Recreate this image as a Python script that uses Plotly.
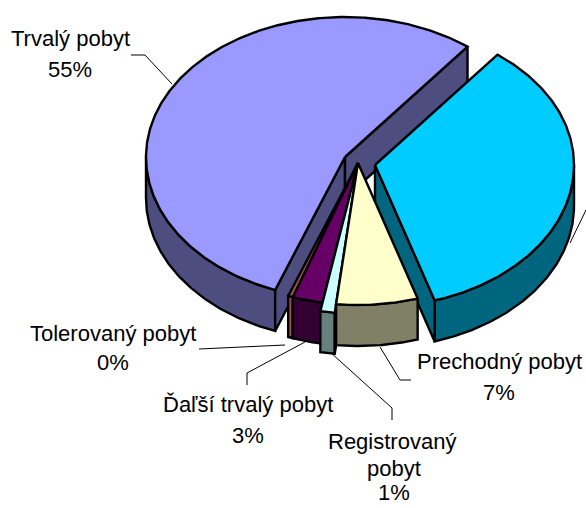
import numpy as np
import plotly.graph_objects as go

# Data, clockwise from the start angle
categories = ["Azylanti", "Prechodný pobyt", "Registrovaný pobyt", "Ďaľší trvalý pobyt", "Tolerovaný pobyt", "Trvalý pobyt"]
values = [34.6, 6.6, 1.1, 2.45, 0.4, 54.85]
top_colors = ["#00CCFF", "#FFFFCC", "#CCFFFF", "#660066", "#A05050", "#9999FF"]
side_colors = ["#006680", "#808066", "#668080", "#330033", "#A05050", "#4D4D80"]
pull_x = [17, 0, 0, 0, 0, -13]
pull_y = [2, 0, 0, 0, 0, -6]
radius_scale = [1.0, 1.0, 1.06, 1.0, 1.0, 1.0]
draw_order = [5, 4, 3, 2, 0, 1]

START_DEG = 38.0
CX, CY = 358.0, 163.0
RX, RY_BACK, RY_FRONT = 199.0, 140.0, 142.0
DEPTH = 41.0
EDGE = "#000000"

fig = go.Figure()


def poly(xs, ys, fill, width=2.4):
    fig.add_trace(go.Scatter(x=xs, y=ys, mode="lines", fill="toself", fillcolor=fill,
                             line=dict(color=EDGE, width=width), hoverinfo="skip", showlegend=False))


def rim(t_deg, cx, cy, scale):
    t = np.radians(t_deg)
    ry = np.where(np.cos(t) < 0, RY_FRONT, RY_BACK)
    return cx + RX * scale * np.sin(t), cy - ry * scale * np.cos(t)


total = sum(values)
edges = START_DEG + np.cumsum([0] + values) / total * 360.0

for i in draw_order:
    a0, a1 = edges[i], edges[i + 1]
    cx, cy = CX + pull_x[i], CY + pull_y[i]
    s = radius_scale[i]
    # outer wall: only the part of the rim that faces the viewer
    lo, hi = max(a0, 90.0), min(a1, 270.0)
    if hi > lo:
        bx, by = rim(np.linspace(lo, hi, max(int(hi - lo) * 2, 6)), cx, cy, s)
        poly(np.r_[bx, bx[::-1], bx[0]], np.r_[by, by[::-1] + DEPTH, by[0]], side_colors[i])
    # radial walls: only those that face the viewer
    for ang, visible in ((a0, np.sin(np.radians(a0)) < 0), (a1, np.sin(np.radians(a1)) > 0)):
        if visible:
            ex, ey = rim(np.array([ang]), cx, cy, s)
            poly([cx, ex[0], ex[0], cx, cx], [cy, ey[0], ey[0] + DEPTH, cy + DEPTH, cy], side_colors[i])
    # top face
    ax, ay = rim(np.linspace(a0, a1, max(int(a1 - a0) * 2, 6)), cx, cy, s)
    poly(np.r_[cx, ax, cx], np.r_[cy, ay, cy], top_colors[i])

# leader lines
leaders = [
    ([131, 145, 172], [55, 55, 84]),
    ([199, 285], [349, 345]),
    ([247, 247, 305], [385, 373, 342]),
    ([392, 392, 330], [420, 408, 352]),
    ([411, 400, 380], [380, 380, 347]),
    ([570, 586], [243, 210]),
]
for lx, ly in leaders:
    fig.add_trace(go.Scatter(x=lx, y=ly, mode="lines", line=dict(color="#000000", width=1),
                             hoverinfo="skip", showlegend=False))

# data labels
labels = [
    ("Trvalý pobyt", 70, 38), ("55%", 70, 69),
    ("Tolerovaný pobyt", 113, 333), ("0%", 113, 362),
    ("Ďaľší trvalý pobyt", 248, 404), ("3%", 248, 435),
    ("Registrovaný", 392, 441), ("pobyt", 394, 468), ("1%", 394, 492),
    ("Prechodný pobyt", 499, 361), ("7%", 499, 392),
]
for text, x, y in labels:
    fig.add_annotation(x=x, y=y, text=text, showarrow=False, xanchor="center", yanchor="middle",
                       font=dict(family="Liberation Sans", size=22, color="#000000"))

fig.update_layout(
    width=586, height=508, margin=dict(l=0, r=0, t=0, b=0),
    paper_bgcolor="#FFFFFF", plot_bgcolor="#FFFFFF", showlegend=False,
    xaxis=dict(range=[0, 586], visible=False, fixedrange=True),
    yaxis=dict(range=[508, 0], visible=False, fixedrange=True),
)
fig.write_html("out.html", config={"displayModeBar": False},
               post_script="document.body.style.margin='0';document.body.style.overflow='hidden';")
